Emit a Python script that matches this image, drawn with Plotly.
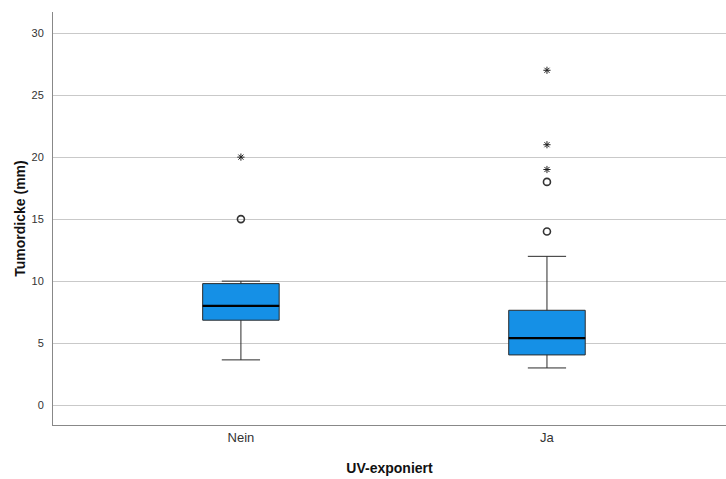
import plotly.graph_objects as go

categories = ["Nein", "Ja"]
q1 = [6.85, 4.05]
median = [8.0, 5.4]
q3 = [9.8, 7.65]
lower_whisker = [3.65, 3.0]
upper_whisker = [10.0, 12.0]
# outliers (circle) and extremes (star)
circle_outliers = [[15.0], [14.0, 18.0]]
star_outliers = [[20.0], [19.0, 21.0, 27.0]]

BOX_W = 0.25
fill = "#1590e6"
edge = "#2b2b2b"

fig = go.Figure()
xs = list(range(len(categories)))
for i, cat in enumerate(categories):
    fig.add_trace(go.Box(
        x=[xs[i]], q1=[q1[i]], median=[median[i]], q3=[q3[i]],
        lowerfence=[lower_whisker[i]], upperfence=[upper_whisker[i]],
        width=BOX_W, whiskerwidth=0.5, fillcolor=fill,
        line=dict(color=edge, width=1), boxpoints=False,
        showlegend=False, hoverinfo="skip", name=cat,
    ))
    # thicker median line
    fig.add_trace(go.Scatter(
        x=[xs[i] - BOX_W / 2, xs[i] + BOX_W / 2], y=[median[i], median[i]],
        mode="lines", line=dict(color="#000000", width=2.2),
        showlegend=False, hoverinfo="skip",
    ))
    fig.add_trace(go.Scatter(
        x=[xs[i]] * len(circle_outliers[i]), y=circle_outliers[i], mode="markers",
        marker=dict(symbol="circle-open", size=7, color="#333333", line=dict(width=1.6)),
        showlegend=False, hoverinfo="skip",
    ))
    fig.add_trace(go.Scatter(
        x=[xs[i]] * len(star_outliers[i]), y=star_outliers[i], mode="markers",
        marker=dict(symbol="asterisk-open", size=6, color="#222222", line=dict(width=1, color="#222222")),
        showlegend=False, hoverinfo="skip",
    ))

font_family = "Arial, Liberation Sans, sans-serif"
fig.update_layout(
    width=726, height=479,
    margin=dict(l=53, r=0, t=12, b=54),
    paper_bgcolor="white", plot_bgcolor="white",
    font=dict(family=font_family, color="#333333"),
    xaxis=dict(
        range=[-0.614, 1.585], tickvals=xs, ticktext=categories,
        showgrid=False, zeroline=False, showline=True, linecolor="#888888", linewidth=1,
        ticks="", tickfont=dict(size=13, color="#333333"),
        title=dict(text="<b>UV-exponiert</b>", font=dict(size=14, color="#111111"), standoff=19),
    ),
    yaxis=dict(
        range=[-1.6, 31.7], tickvals=[0, 5, 10, 15, 20, 25, 30],
        showgrid=True, gridcolor="#c9c9c9", gridwidth=1, zeroline=False,
        showline=True, linecolor="#888888", linewidth=1, ticks="",
        tickfont=dict(size=11, color="#333333"), ticklabelstandoff=6,
        title=dict(text="<b>Tumordicke (mm)</b>", font=dict(size=14, color="#111111"), standoff=2),
    ),
)

fig.write_html("out.html")
